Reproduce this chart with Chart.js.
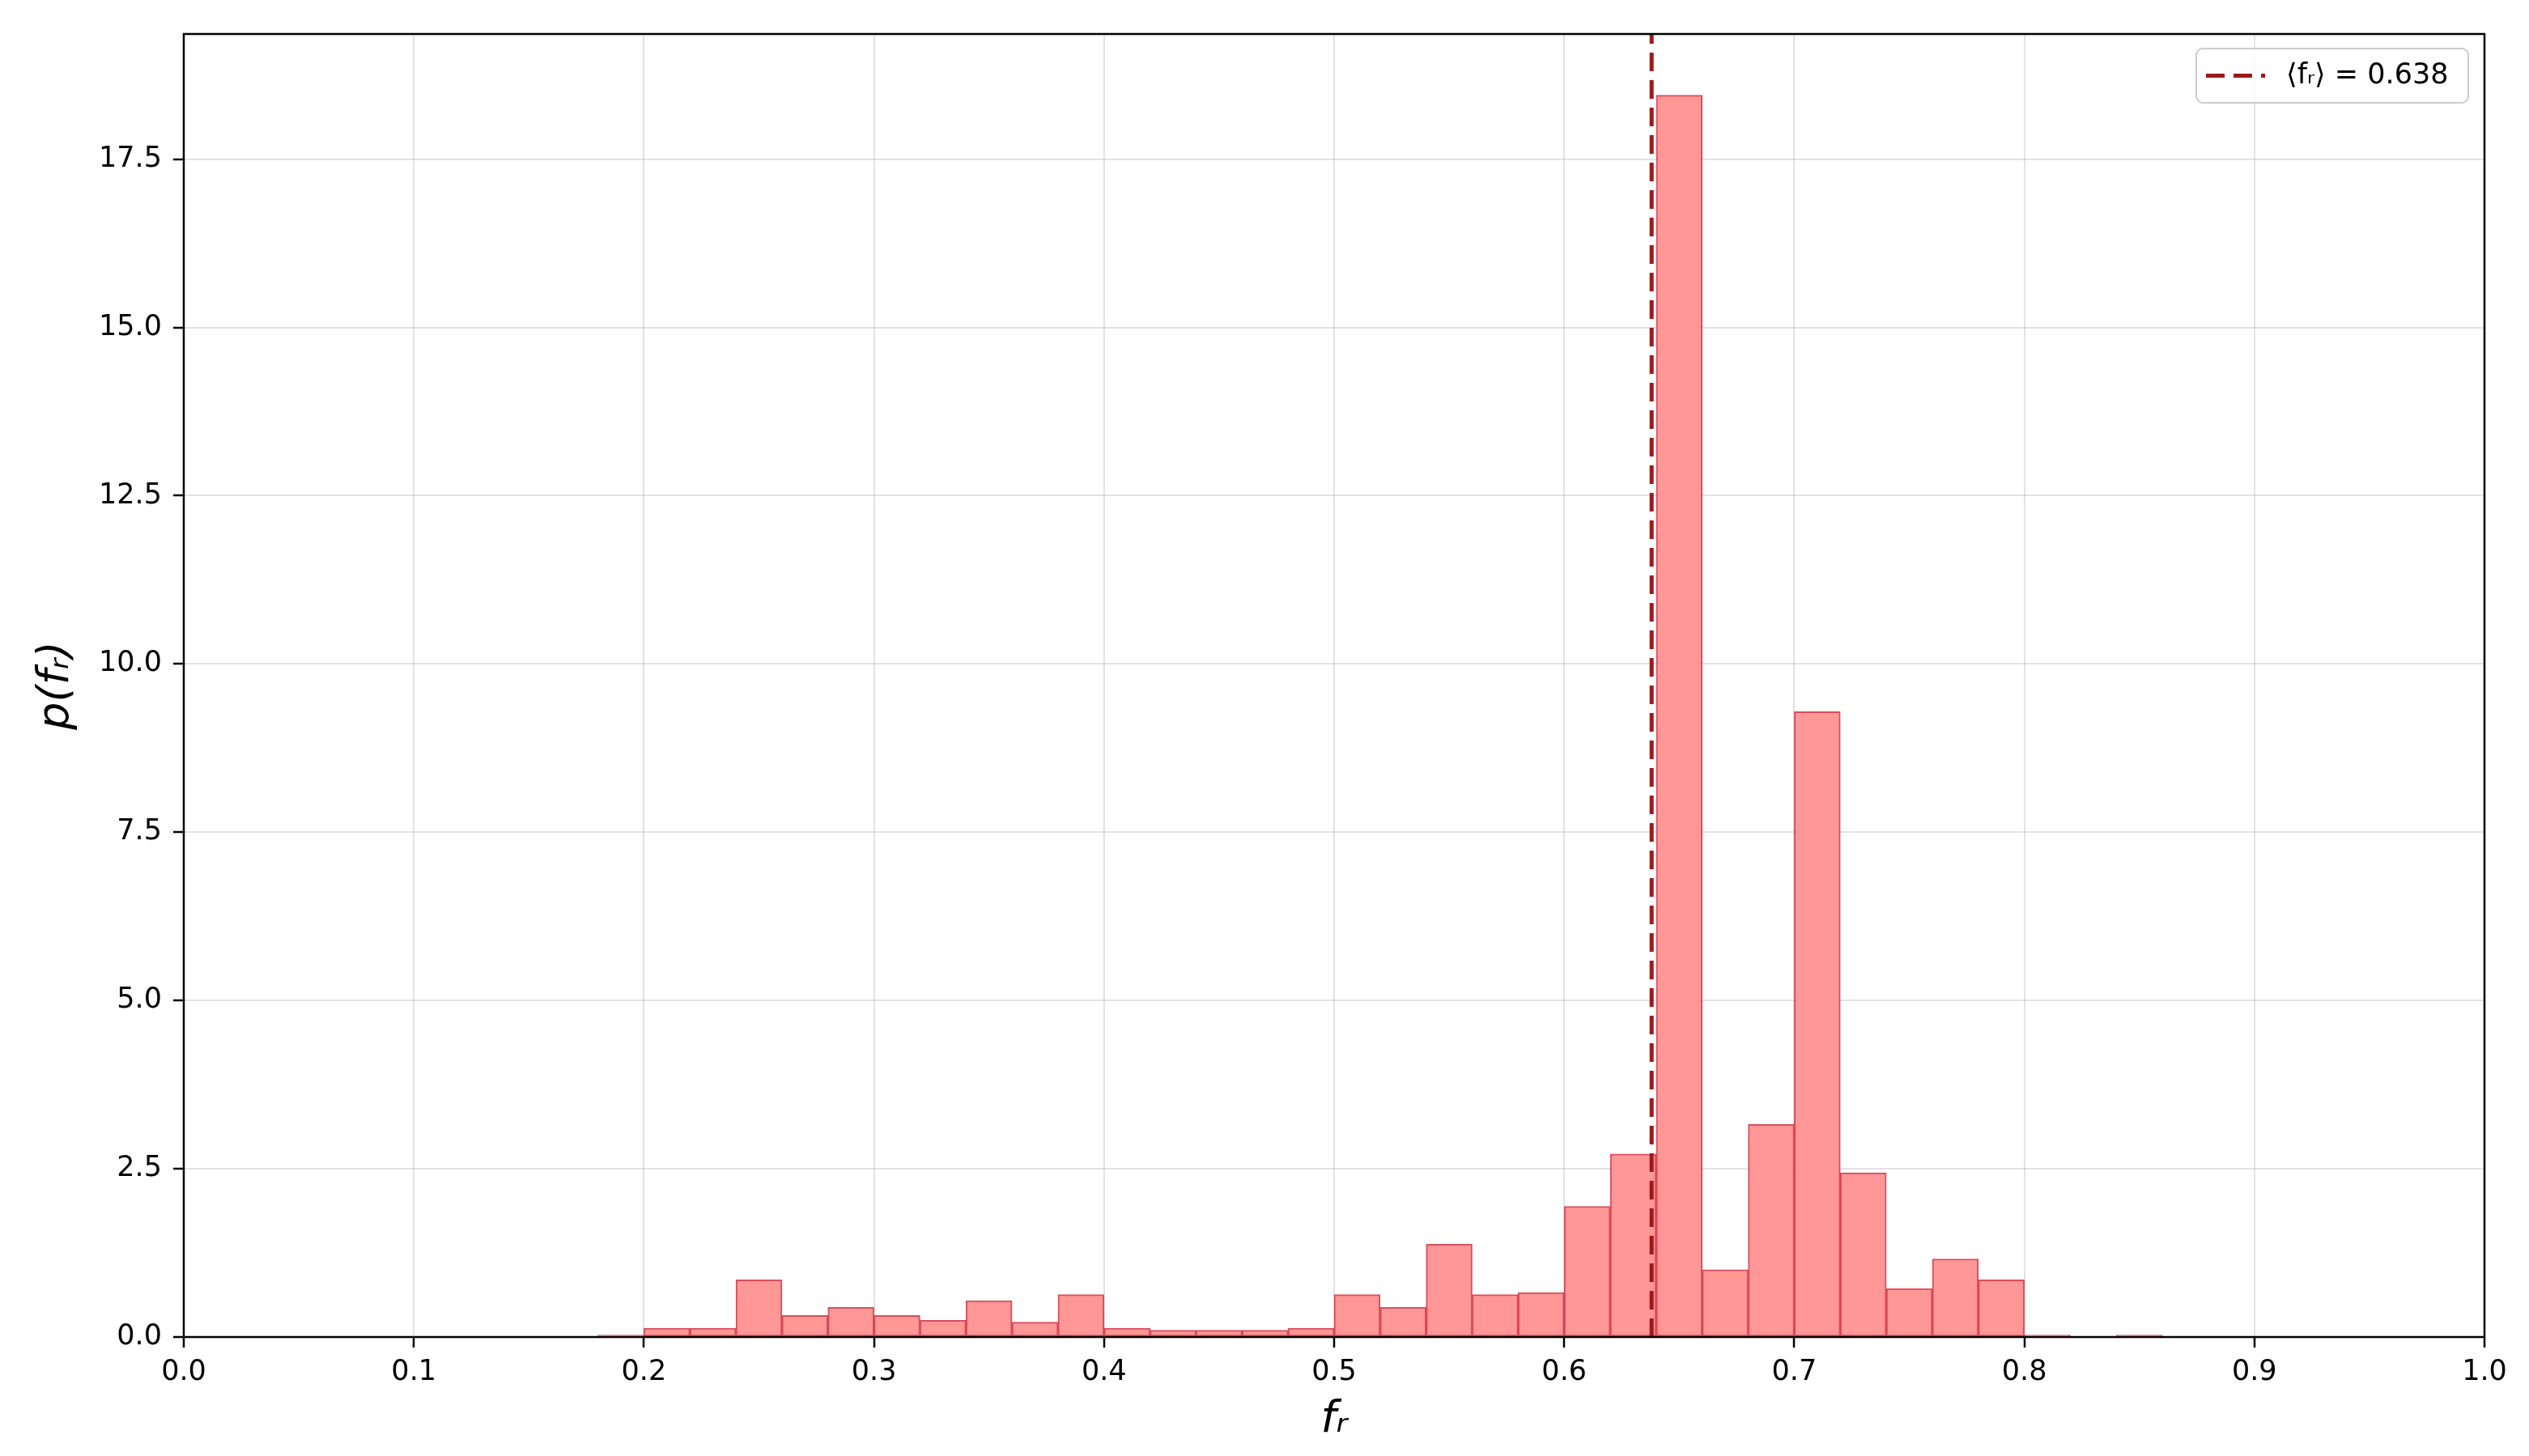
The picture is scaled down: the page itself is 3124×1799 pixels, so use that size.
<!DOCTYPE html>
<html>
<head>
<meta charset="utf-8">
<script src="https://cdn.jsdelivr.net/npm/chart.js@4.4.1/dist/chart.umd.min.js"></script>
<style>
  html, body { margin: 0; padding: 0; background: #fff; }
  #wrap { width: 3124px; height: 1799px; }
</style>
</head>
<body>
<div id="wrap"><canvas id="histChart"></canvas></div>
<script>
// histogram of f_r, bin width 0.02
var binCenters = [0.19, 0.21, 0.23, 0.25, 0.27, 0.29, 0.31, 0.33, 0.35, 0.37,
                  0.39, 0.41, 0.43, 0.45, 0.47, 0.49, 0.51, 0.53, 0.55, 0.57,
                  0.59, 0.61, 0.63, 0.65, 0.67, 0.69, 0.71, 0.73, 0.75, 0.77,
                  0.79, 0.81, 0.83, 0.85];
var density = [0.03, 0.13, 0.13, 0.85, 0.32, 0.44, 0.32, 0.25, 0.54, 0.22,
               0.63, 0.13, 0.10, 0.10, 0.10, 0.13, 0.63, 0.44, 1.38, 0.63,
               0.66, 1.94, 2.72, 18.45, 1.00, 3.16, 9.29, 2.44, 0.72, 1.16,
               0.85, 0.03, 0, 0.03];
var meanFr = 0.638;
var xTicks = [0.0, 0.1, 0.2, 0.3, 0.4, 0.5, 0.6, 0.7, 0.8, 0.9, 1.0];
var yTicks = [0.0, 2.5, 5.0, 7.5, 10.0, 12.5, 15.0, 17.5];
var yMax = 19.36;

var font = 'DejaVu Sans';
var meanColor = '#9c1a1c';

// black frame around the plot + matplotlib-like legend box in the top right corner
var framePlugin = {
    id: 'frame',
    afterDraw: function (chart) {
        var a = chart.chartArea;
        var c = chart.ctx;
        c.save();
        c.strokeStyle = '#000';
        c.lineWidth = 2.5;
        c.strokeRect(a.left, a.top, a.right - a.left, a.bottom - a.top);

        var ds = chart.data.datasets[0];
        var bx = a.right - 356, by = a.top + 18, bw = 336, bh = 67;
        c.fillStyle = 'rgba(255,255,255,0.8)';
        c.strokeStyle = '#cccccc';
        c.lineWidth = 2;
        c.beginPath();
        c.roundRect(bx, by, bw, bh, 8);
        c.fill();
        c.stroke();

        c.strokeStyle = ds.borderColor;
        c.lineWidth = ds.borderWidth;
        c.setLineDash(ds.borderDash);
        c.beginPath();
        c.moveTo(bx + 12, by + bh / 2);
        c.lineTo(bx + 85, by + bh / 2);
        c.stroke();
        c.setLineDash([]);

        c.fillStyle = '#000';
        c.font = '35px ' + font;
        c.textBaseline = 'middle';
        c.textAlign = 'left';
        c.fillText(ds.label, bx + 111, by + bh / 2);
        c.restore();
    }
};

var ctx = document.getElementById('histChart').getContext('2d');
var myChart = new Chart(ctx, {
    type: 'bar',
    data: {
        datasets: [{
            type: 'line',
            label: '\u27E8f\u1D63\u27E9 = ' + meanFr,
            data: [{x: meanFr, y: 0}, {x: meanFr, y: yMax}],
            borderColor: meanColor,
            backgroundColor: meanColor,
            borderWidth: 5,
            borderDash: [23, 11],
            pointRadius: 0,
            order: 1
        }, {
            label: 'hist',
            data: binCenters.map(function (x, i) { return {x: x, y: density[i]}; }),
            backgroundColor: '#ff9797',
            borderColor: 'rgba(210, 34, 52, 0.8)',
            borderWidth: 2,
            borderSkipped: false,
            barPercentage: 1,
            categoryPercentage: 1,
            grouped: false,
            order: 2
        }]
    },
    options: {
        responsive: true,
        maintainAspectRatio: false,
        devicePixelRatio: 1,
        animation: false,
        layout: { padding: { left: 0, top: 42, right: 55, bottom: 0 } },
        scales: {
            x: {
                type: 'linear',
                min: 0,
                max: 1,
                offset: false,
                afterBuildTicks: function (s) { s.ticks = xTicks.map(function (v) { return {value: v}; }); },
                afterFit: function (s) { s.height = 147; },
                ticks: {
                    color: '#000',
                    padding: 10,
                    maxRotation: 0,
                    font: { family: font, size: 35 },
                    callback: function (v) { return v.toFixed(1); }
                },
                grid: {
                    offset: false,
                    color: 'rgba(176,176,176,0.35)',
                    lineWidth: 2,
                    tickColor: '#000',
                    tickWidth: 2.5,
                    tickLength: 13
                },
                border: { display: false },
                title: {
                    display: true,
                    text: 'f\u1D63',
                    color: '#000',
                    font: { family: font, size: 54, style: 'italic' },
                    padding: { top: 0, bottom: 12 }
                }
            },
            y: {
                min: 0,
                max: yMax,
                afterBuildTicks: function (s) { s.ticks = yTicks.map(function (v) { return {value: v}; }); },
                afterFit: function (s) { s.width = 227; },
                ticks: {
                    color: '#000',
                    padding: 14,
                    font: { family: font, size: 35 },
                    callback: function (v) { return v.toFixed(1); }
                },
                grid: {
                    color: 'rgba(176,176,176,0.35)',
                    lineWidth: 2,
                    tickColor: '#000',
                    tickWidth: 2.5,
                    tickLength: 13
                },
                border: { display: false },
                title: {
                    display: true,
                    text: 'p(f\u1D63)',
                    color: '#000',
                    font: { family: font, size: 54, style: 'italic' },
                    padding: { top: 38, bottom: 0 }
                }
            }
        },
        plugins: {
            legend: { display: false },
            tooltip: { enabled: false }
        }
    },
    plugins: [framePlugin]
});
</script>
</body>
</html>
